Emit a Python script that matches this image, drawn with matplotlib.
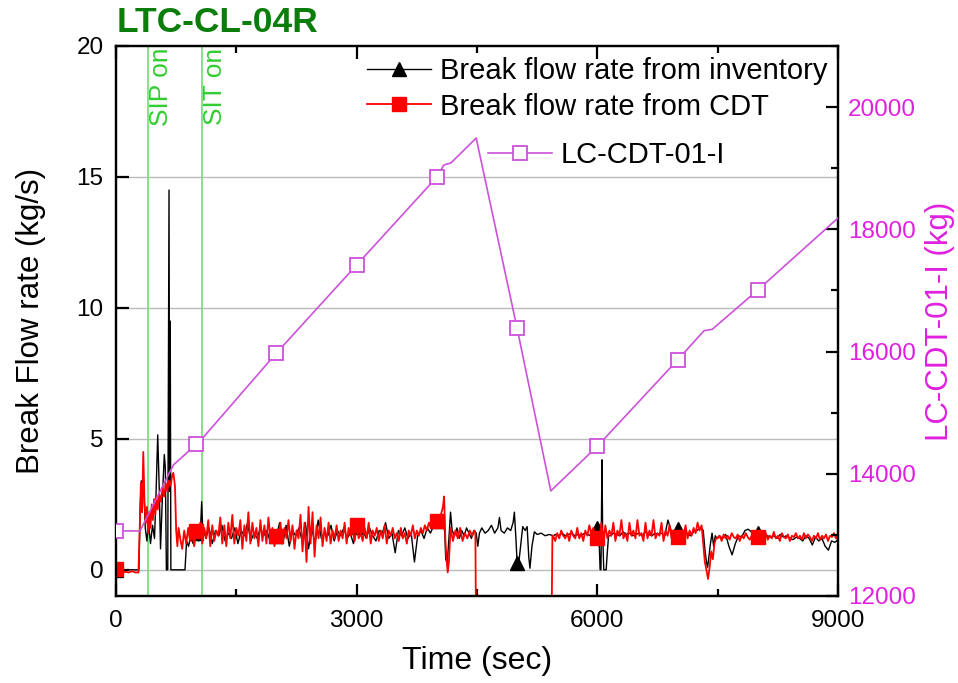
import numpy as np
import matplotlib
matplotlib.use("Agg")
import matplotlib.pyplot as plt
import matplotlib.transforms as mtransforms

plt.rcParams['font.family'] = ['Liberation Sans', 'DejaVu Sans']

# ---------------- data ----------------
# Break flow rate from inventory (black)
inv_t1 = [0, 100, 200, 285, 300, 315, 330, 345, 365, 385, 405, 430, 455, 480, 500, 520, 540, 555, 575, 602,
          615, 628, 645, 661, 668, 676, 684, 700, 750, 800, 860, 880, 905, 930, 960, 1000, 1030, 1050, 1068, 1085, 1100]
inv_v1 = [0, 0, 0, 0, 2.2, 3.4, 2.8, 3.3, 1.6, 1.1, 1.8, 1.0, 1.7, 1.2, 3.0, 5.15, 3.0, 0.8, 2.5, 4.4,
          3.9, 0, 0, 14.5, 3.0, 9.5, 0, 0, 0, 0, 0, 1.1, 0.9, 1.3, 1.0, 1.4, 1.1, 1.3, 2.6, 1.2, 1.5]
inv_t2 = np.arange(1120, 4081, 40)
inv_v2 = [1.2, 1.6, 1.0, 1.5, 1.3, 1.7, 1.1, 1.4, 1.2, 1.6,
          1.0, 1.5, 1.3, 1.8, 1.1, 1.4, 1.2, 1.6, 1.3, 1.5,
          1.1, 1.4, 1.3, 1.8, 1.0, 1.7, 0.9, 1.5, 1.3, 1.6,
          1.1, 1.8, 0.8, 1.6, 1.0, 1.9, 1.2, 1.4, 1.3, 1.7,
          1.1, 1.5, 1.3, 1.6, 1.2, 1.4, 1.0, 1.65, 1.3, 1.5,
          1.2, 1.6, 1.3, 1.1, 1.5, 1.4, 1.8, 1.2, 1.4, 0.65,
          1.5, 1.3, 1.6, 1.2, 1.4, 0.3, 1.3, 1.5, 1.2, 1.6,
          1.4, 1.7, 1.85, 1.9, 2.1]
inv_t3 = [4100, 4110, 4130, 4150, 4170, 4190, 4220, 4250, 4280, 4310, 4340, 4370, 4400, 4430, 4460, 4490,
          4510, 4530, 4560, 4600, 4640, 4680, 4720, 4760, 4780, 4800, 4840, 4880, 4920, 4950, 4966, 4985,
          5000, 5015, 5040, 5070, 5100, 5125, 5145, 5160, 5185, 5215, 5250, 5300, 5350, 5400, 5450]
inv_v3 = [1.3, 0.4, 0.27, 1.2, 2.2, 1.5, 1.3, 1.6, 1.2, 1.5, 1.3, 1.6, 1.4, 1.2, 1.5, 1.4,
          0.9, 1.4, 1.6, 1.4, 1.5, 1.7, 1.4, 1.6, 2.0, 1.5, 1.4, 1.6, 1.5, 1.8, 2.2, 1.2,
          0.27, 0.1, 0.8, 1.65, 1.5, 1.65, 0.5, 0.06, 0.9, 1.45, 1.35, 1.4, 1.3, 1.35, 1.3]
inv_t4 = np.arange(5480, 6001, 40)
inv_v4 = [1.35, 1.3, 1.4, 1.3, 1.35, 1.4, 1.3, 1.35, 1.3, 1.4, 1.35, 1.3, 1.45, 1.6]
inv_t5 = [6020, 6035, 6045, 6058, 6066, 6080, 6110, 6125, 6140]
inv_v5 = [1.3, 0.0, 0.0, 4.2, 1.5, 0.0, 0.0, 0.7, 1.3]
inv_t6 = np.arange(6160, 7281, 40)
inv_v6 = [1.3, 1.4, 1.35, 1.3, 1.45, 1.35, 1.4, 1.3, 1.35, 1.4,
          1.3, 1.45, 1.35, 1.3, 1.4, 1.35, 1.4, 1.3, 1.9, 1.5,
          1.45, 1.55, 1.4, 1.35, 1.4, 1.3, 1.45, 1.5, 1.6]
inv_t7 = [7300, 7320, 7340, 7360, 7375, 7390, 7410, 7430, 7450, 7470, 7490]
inv_v7 = [1.6, 1.5, 0.8, 0.3, 0.1, 0.5, 1.0, 1.4, 0.9, 1.3, 1.2]
inv_t8 = np.arange(7520, 9001, 40)
inv_v8 = [1.3, 1.2, 1.35, 0.9, 0.57, 1.0, 1.3, 1.25, 1.5, 1.55, 1.45, 1.3,
          1.4,
          1.3, 1.2, 1.3, 1.25, 1.3, 1.2, 1.35, 1.25, 1.3, 1.2,
          1.15, 1.25, 1.2, 1.1, 1.3, 1.2, 0.95, 1.25, 1.1, 1.2,
          0.9, 0.75, 1.1, 1.05, 1.15]

# Break flow rate from CDT (red)
cdt_t1 = [0, 40, 80, 120, 160, 200, 240, 280, 295, 310, 325, 340, 355, 370, 385, 400, 415, 430, 445, 460,
          475, 490, 505, 520, 540, 560, 580, 600, 620, 640, 660, 680, 700, 715, 735, 750, 765, 780]
cdt_v1 = [0.05, -0.05, -0.1, -0.08, -0.1, -0.05, -0.1, -0.1, 1.5, 3.3, 2.2, 4.5, 2.6, 1.8, 2.4, 1.4, 2.2, 1.6, 2.5, 1.9,
          2.7, 2.1, 2.8, 2.3, 2.9, 2.6, 3.1, 2.8, 3.3, 3.0, 3.4, 3.2, 3.6, 3.7, 3.2, 1.5, 0.9, 1.6]
cdt_t2 = np.arange(800, 4076, 25)
cdt_v2 = [1.2, 0.8, 1.5, 1.0, 1.6, 1.1, 1.4, 0.9, 1.5, 1.2,
          1.8, 1.0, 1.6, 1.2, 1.9, 0.9, 1.7, 1.1, 1.5, 1.3,
          2.0, 1.0, 1.7, 0.9, 1.8, 1.2, 2.1, 1.0, 1.6, 1.3,
          1.9, 0.8, 1.7, 1.1, 2.2, 1.0, 1.8, 1.2, 1.6, 0.9,
          1.9, 1.1, 1.7, 1.0, 2.0, 1.2, 1.6, 0.9, 1.3, 1.1,
          1.8, 1.0, 1.6, 1.2, 1.9, 1.1, 1.7, 0.8, 1.5, 1.2,
          2.1, 0.7, 1.8, 0.3, 2.4, 1.0, 2.2, 0.5, 1.7, 1.2,
          2.0, 0.9, 1.6, 1.1, 1.8, 1.0, 1.5, 1.2, 1.7, 1.1,
          1.5, 1.2, 1.8, 1.0, 1.6, 1.3, 1.5, 1.1, 1.7, 1.2,
          1.4, 1.1, 1.6, 1.2, 1.8, 1.0, 1.5, 1.3, 1.6, 1.1,
          1.5, 1.2, 1.7, 1.0, 1.5, 1.3, 1.6, 1.2, 1.4, 1.1,
          1.6, 1.2, 1.4, 1.0, 1.5, 1.3, 1.7, 1.2, 1.5, 1.3,
          1.6, 1.4, 1.7, 1.5, 1.8, 1.6, 1.9, 1.7, 1.85, 1.8,
          2.1, 2.4]
cdt_t3 = [4090, 4105, 4120, 4135, 4150, 4170, 4200, 4230, 4260, 4290, 4320, 4350, 4380, 4410, 4440, 4470,
          4480, 4487, 4488, 5429, 5430, 5440]
cdt_v3 = [2.8, 1.2, 0.4, -0.1, 0.3, 1.6, 1.1, 1.5, 1.2, 1.6, 1.1, 1.4, 1.2, 1.5, 1.3, 1.5,
          1.4, -2.0, np.nan, np.nan, -2.0, 1.3]
cdt_t4 = np.arange(5450, 7301, 25)
cdt_v4 = [1.3, 1.1, 1.4, 1.2, 1.5, 1.3, 1.2, 1.4, 1.1, 1.5,
          1.3, 1.2, 1.6, 1.2, 1.4, 1.1, 1.5, 1.3, 1.7, 1.4,
          1.6, 1.3, 1.2, 1.1, 1.8, 1.0, 1.7, 1.2, 1.5, 1.3,
          1.8, 1.1, 1.5, 1.3, 1.9, 1.2, 1.4, 1.1, 1.8, 1.3,
          1.5, 1.2, 1.9, 1.3, 1.4, 1.1, 1.8, 1.2, 1.5, 1.3,
          1.9, 1.2, 1.4, 1.3, 1.8, 1.1, 1.5, 1.3, 1.7, 1.2,
          1.5, 1.3, 1.25, 1.2, 1.4, 1.3, 1.7, 1.2, 1.5, 1.3,
          1.6, 1.4, 1.8, 1.5, 1.7]
cdt_t5 = [7320, 7340, 7360, 7380, 7400, 7420, 7440, 7460, 7480]
cdt_v5 = [1.0, 0.3, 0.0, -0.35, 0.1, 0.7, 0.4, 1.0, 1.2]
cdt_t6 = np.arange(7500, 9001, 25)
cdt_v6 = [1.2, 1.3, 1.1, 1.35, 1.2, 1.3, 1.15, 1.4, 1.25, 1.2,
          1.35, 1.1, 1.3, 1.2, 1.4, 1.25, 1.15, 1.3, 1.2, 1.35,
          1.25, 1.1, 1.35, 1.2, 1.4, 1.15, 1.3, 1.2, 1.45, 1.2,
          1.3, 1.1, 1.4, 1.25, 1.2, 1.35, 1.1, 1.3, 1.25, 1.4,
          1.2, 1.3, 1.15, 1.4, 1.2, 1.35, 1.25, 1.1, 1.3, 1.2,
          1.4, 1.15, 1.3, 1.2, 1.35, 1.1, 1.3, 1.25, 1.4, 1.2,
          1.3]

# LC-CDT-01-I inventory (magenta, right axis)
mass_t = [0, 299, 715, 798, 1000, 1068, 2000, 3000, 4000, 4087, 4175, 4490, 5000, 5420, 6000, 7000, 7330, 7433, 8000, 9000]
mass_v = [13064, 13064, 14144, 14242, 14480, 14565, 15976, 17417, 18856, 19053, 19086, 19494, 16380, 13720, 14450,
          15862, 16341, 16364, 17007, 18185]

marker_times = [0, 1000, 2000, 3000, 4000, 5000, 6000, 7000, 8000]
event_times = [395, 1068]
event_labels = ['SIP on', 'SIT on']

x_ticks = [0, 3000, 6000, 9000]
y_ticks = [0, 5, 10, 15, 20]
y2_ticks = [12000, 14000, 16000, 18000, 20000]

# ---------------- assemble ----------------
inv_t = np.concatenate([inv_t1, inv_t2, inv_t3, inv_t4, inv_t5, inv_t6, inv_t7, inv_t8]).astype(float)
inv_v = np.concatenate([inv_v1, inv_v2, inv_v3, inv_v4, inv_v5, inv_v6, inv_v7, inv_v8]).astype(float)
cdt_t = np.concatenate([cdt_t1, cdt_t2, cdt_t3, cdt_t4, cdt_t5, cdt_t6]).astype(float)
cdt_v = np.concatenate([cdt_v1, cdt_v2, cdt_v3, cdt_v4, cdt_v5, cdt_v6]).astype(float)


def mark_idx(t):
    return [i for i, v in enumerate(t) if v in marker_times]


MAG = '#CC52DA'
MAG_TXT = '#E020E0'
GREEN_LINE = '#7BE07B'
GREEN_TXT = '#33CC33'

fig = plt.figure(figsize=(9.58, 6.83), dpi=100)
ax = fig.add_axes([116 / 958, 1 - 596 / 683, 722 / 958, 550 / 683])

for y in [0, 5, 10, 15]:
    ax.axhline(y, color='#BBBBBB', lw=1.0, zorder=0)

for xe in event_times:
    ax.axvline(xe, color=GREEN_LINE, lw=1.3, zorder=1)
trans = mtransforms.blended_transform_factory(ax.transData, ax.transAxes)
for xe, lab in zip(event_times, event_labels):
    ax.text(xe + 15, 0.997, lab, rotation=90, va='top', ha='left', color=GREEN_TXT,
            fontsize=19, transform=trans)

l1, = ax.plot(inv_t, inv_v, color='black', lw=1.0, marker='^', markersize=10,
              markevery=mark_idx(inv_t), zorder=3)
l2, = ax.plot(cdt_t, cdt_v, color='#FF0000', lw=1.3, marker='s', markersize=9.5,
              markevery=mark_idx(cdt_t), zorder=4)

ax.set_xlim(0, 9000)
ax.set_ylim(-1, 20)
ax.set_xticks(x_ticks)
ax.set_xticks([1500, 4500, 7500], minor=True)
ax.set_yticks(y_ticks)
ax.tick_params(axis='both', which='major', direction='in', length=9, width=1.6, labelsize=17.5)
ax.tick_params(axis='both', which='minor', direction='in', length=5, width=1.6)
ax.tick_params(axis='x', which='both', top=True, pad=10)
ax.tick_params(axis='y', which='both', pad=9)
for s in ax.spines.values():
    s.set_linewidth(1.6)
ax.set_xlabel('Time (sec)', fontsize=23, labelpad=10)
ax.set_ylabel('Break Flow rate (kg/s)', fontsize=22.5, labelpad=22)

ax2 = ax.twinx()
l3, = ax2.plot(mass_t, mass_v, color=MAG, lw=1.2, marker='s', markersize=10,
               markerfacecolor='white', markeredgecolor=MAG, markeredgewidth=1.3,
               markevery=mark_idx(mass_t), zorder=5)
ax2.set_ylim(12000, 21000)
ax2.set_yticks(y2_ticks)
ax2.set_yticks([13000, 15000, 17000, 19000, 21000], minor=True)
ax2.tick_params(axis='y', which='major', direction='in', length=9, width=1.6, labelsize=17.5,
                labelcolor=MAG_TXT, pad=7)
ax2.tick_params(axis='y', which='minor', direction='in', length=5, width=1.6)
ax2.set_ylabel('LC-CDT-01-I (kg)', fontsize=22.5, color=MAG_TXT, labelpad=7)
for s in ax2.spines.values():
    s.set_linewidth(1.6)

leg1 = ax2.legend([l1, l2], ['Break flow rate from inventory', 'Break flow rate from CDT'],
                  loc='upper left', bbox_to_anchor=(0.34, 0.99), frameon=False, fontsize=21,
                  handlelength=2.2, handletextpad=0.3, labelspacing=0.25, borderpad=0.2,
                  borderaxespad=0)
ax2.add_artist(leg1)
leg2 = ax2.legend([l3], ['LC-CDT-01-I'], loc='center left', bbox_to_anchor=(0.515, 0.802),
                  frameon=False, fontsize=21, handlelength=2.2, handletextpad=0.3,
                  borderpad=0, borderaxespad=0)

fig.text(117 / 958, 1 - 23 / 683, 'LTC-CL-04R', fontsize=25.5, fontweight='bold', color='#0A7D0A',
         va='center', ha='left')

fig.savefig('out.png', dpi=100)
